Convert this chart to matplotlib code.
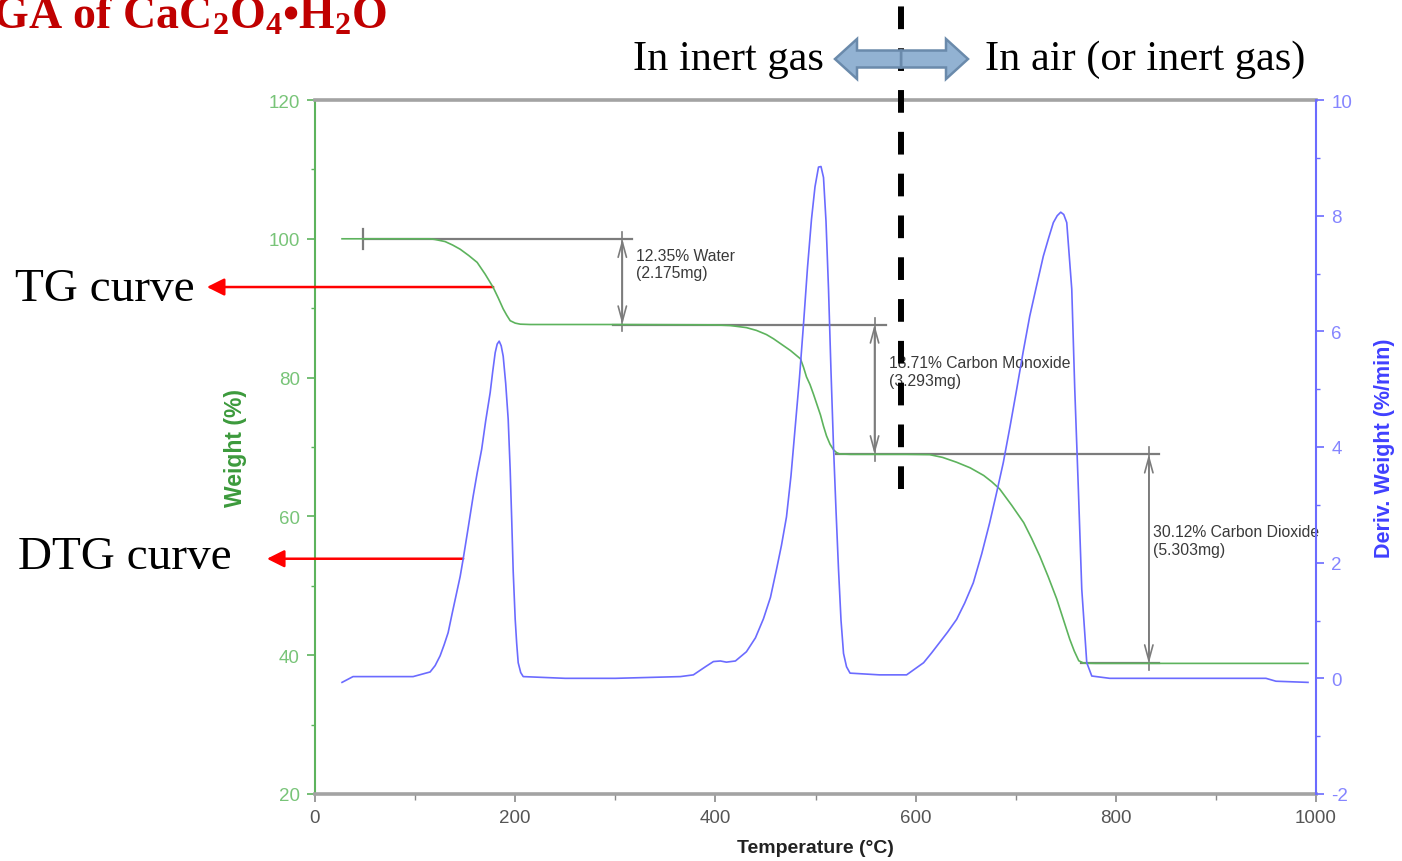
import matplotlib
matplotlib.use("Agg")
import matplotlib.pyplot as plt
from matplotlib.lines import Line2D
from matplotlib.patches import FancyArrow

# --- data ---
# TG curve: temperature (C) vs weight (%)
tg_temp = [27, 48, 115, 120, 130, 137.5, 145, 153.5, 162, 170, 178, 183, 188, 191.5, 195,
           200, 205, 215, 300, 398, 415, 431, 441, 451, 458, 465, 470, 475, 480, 485, 488,
           491, 494.5, 498, 501.5, 505, 508, 511, 514.5, 518, 521, 524, 535, 591, 614, 627,
           641, 654.5, 668, 676, 684, 696, 708, 716, 724, 732.5, 741, 747.5, 754, 758.5,
           763, 768, 780, 992]
tg_weight = [100, 100, 100, 99.9, 99.6, 99.1, 98.5, 97.6, 96.6, 94.9, 93.0, 91.5, 89.9, 89.0,
             88.2, 87.85, 87.7, 87.65, 87.65, 87.6, 87.5, 87.2, 86.8, 86.2, 85.6, 84.9, 84.4,
             83.9, 83.3, 82.7, 81.5, 80.1, 79.0, 77.6, 76.1, 74.6, 73.0, 71.6, 70.4, 69.6,
             69.2, 69.0, 68.94, 68.94, 68.9, 68.5, 67.8, 67.0, 65.9, 65.0, 63.95, 61.6, 59.1,
             56.8, 54.3, 51.3, 48.1, 45.2, 42.3, 40.6, 39.2, 38.85, 38.82, 38.82]

# DTG curve: temperature (C) vs deriv. weight (%/min)
dtg_temp = [27, 38, 98, 115, 120, 125, 129, 133, 137, 141.5, 145, 148, 153, 158, 162, 166.5,
            170.5, 175, 177.5, 180, 182, 184, 186, 188, 190.5, 193, 195, 196.5, 198, 200,
            201.5, 203, 205.5, 208, 250, 300, 365, 378, 390, 398, 405, 411, 420, 431, 440,
            448, 455, 461, 466, 471, 475.5, 479.5, 484, 488, 492, 496, 499.5, 503, 505.5,
            508, 510.5, 513, 515.5, 518, 520.5, 523, 525.5, 528, 531, 534.5, 564, 591, 608,
            616, 624, 632, 641, 649, 657.6, 666, 674, 680.8, 687.6, 694.3, 701, 707.5, 714,
            721, 727.6, 733, 737.6, 741.5, 745, 748, 751, 756, 759, 762.6, 766, 771, 776,
            794, 950, 960, 992]
dtg_value = [-0.07, 0.03, 0.03, 0.11, 0.22, 0.39, 0.58, 0.79, 1.12, 1.48, 1.76, 2.06, 2.6,
             3.15, 3.55, 3.96, 4.45, 4.94, 5.3, 5.63, 5.78, 5.83, 5.75, 5.57, 5.1, 4.48, 3.6,
             2.75, 1.85, 1.02, 0.6, 0.27, 0.1, 0.03, 0.0, 0.0, 0.03, 0.06, 0.2, 0.29, 0.3,
             0.28, 0.3, 0.46, 0.7, 1.03, 1.4, 1.88, 2.3, 2.79, 3.5, 4.30, 5.2, 6.12, 7.1, 7.94,
             8.5, 8.84, 8.85, 8.66, 7.9, 6.73, 5.3, 4.0, 2.9, 1.88, 1.0, 0.43, 0.2, 0.09, 0.06,
             0.06, 0.27, 0.44, 0.62, 0.8, 1.02, 1.3, 1.65, 2.15, 2.69, 3.2, 3.73, 4.35, 5.0,
             5.65, 6.26, 6.8, 7.30, 7.62, 7.88, 8.0, 8.06, 8.02, 7.88, 6.73, 5.0, 3.27, 1.54,
             0.27, 0.04, 0.0, 0.0, -0.05, -0.07]

# weight-loss steps
step_levels = [100.0, 87.65, 68.94, 38.82]
step_arrow_temp = [307, 559, 833]
step_labels = ["12.35% Water\n(2.175mg)",
               "18.71% Carbon Monoxide\n(3.293mg)",
               "30.12% Carbon Dioxide\n(5.303mg)"]
step_label_pos = [(321, 96.4), (573, 80.9), (837, 56.5)]
# horizontal guide lines: (level, T start, T end)
guide_lines = [(100.0, 48, 317), (87.65, 298, 570), (68.94, 520, 843), (38.82, 765, 843)]

# --- styling ---
plt.rcParams['font.family'] = ['Liberation Sans', 'DejaVu Sans']
plt.rcParams['axes.unicode_minus'] = False
plt.rcParams['mathtext.fontset'] = 'custom'
plt.rcParams['mathtext.rm'] = 'Liberation Serif:bold'
plt.rcParams['mathtext.it'] = 'Liberation Serif:italic:bold'
plt.rcParams['mathtext.bf'] = 'Liberation Serif:bold'

GREEN = '#5db35d'
GREEN_TXT = '#78c478'
GREEN_LBL = '#3c9a3c'
BLUE = '#6b6bff'
BLUE_TXT = '#8585ff'
BLUE_LBL = '#4040ff'
GREY = '#7c7c7c'

W, H = 1402, 862
fig = plt.figure(figsize=(W / 100, H / 100), dpi=100)
ax = fig.add_axes([315 / W, 67 / H, 1001 / W, 694 / H])
ax2 = ax.twinx()

ax.set_xlim(0, 1000)
ax.set_ylim(20, 120)
ax2.set_ylim(-2, 10)

# curves
ax2.plot(dtg_temp, dtg_value, color=BLUE, lw=1.2, zorder=3)
ax.plot(tg_temp, tg_weight, color=GREEN, lw=1.2, zorder=4)

# step annotations
for lvl, t0, t1 in guide_lines:
    ax.plot([t0, t1], [lvl, lvl], color=GREY, lw=1.6, zorder=2)
ax.plot([48, 48], [98.6, 101.4], color=GREY, lw=1.6, zorder=2)
for i, t in enumerate(step_arrow_temp):
    top, bot = step_levels[i], step_levels[i + 1]
    ax.plot([t, t], [top + 1.0, bot - 1.0], color=GREY, lw=1.2, zorder=2)
    ax.annotate('', xy=(t, top), xytext=(t, bot),
                arrowprops=dict(arrowstyle='<->,head_length=1.1,head_width=0.3',
                                color=GREY, lw=1.2, mutation_scale=10,
                                shrinkA=0, shrinkB=0), zorder=2)
    ax.text(step_label_pos[i][0], step_label_pos[i][1], step_labels[i],
            fontsize=11.3, color='#3a3a3a', ha='left', va='center', linespacing=1.2,
            zorder=5)

# spines
ax2.set_zorder(ax.get_zorder() + 1)
ax2.patch.set_visible(False)
for s in ['top', 'bottom']:
    ax.spines[s].set_color('#a3a3a3')
    ax.spines[s].set_linewidth(2.6)
ax.spines['left'].set_color(GREEN)
ax.spines['left'].set_linewidth(1.5)
ax.spines['right'].set_visible(False)
for s in ['top', 'bottom', 'left']:
    ax2.spines[s].set_visible(False)
ax2.spines['right'].set_color(BLUE)
ax2.spines['right'].set_linewidth(1.5)

# ticks
ax.set_xticks(range(0, 1001, 200))
ax.set_xticks(range(100, 1000, 200), minor=True)
ax.set_yticks(range(20, 121, 20))
ax.set_yticks(range(30, 120, 20), minor=True)
ax2.set_yticks(range(-2, 11, 2))
ax2.set_yticks(range(-1, 10, 2), minor=True)
ax.tick_params(axis='x', which='both', colors='#8a8a8a', labelcolor='#555555',
               labelsize=13.5, pad=5, direction='out')
ax.tick_params(axis='x', which='major', length=6, width=1.2)
ax.tick_params(axis='x', which='minor', length=4, width=1.0)
ax.tick_params(axis='y', which='both', colors=GREEN, labelcolor=GREEN_TXT,
               labelsize=13.5, pad=5, direction='out')
ax.tick_params(axis='y', which='major', length=6, width=1.2)
ax.tick_params(axis='y', which='minor', length=3, width=1.0)
ax2.tick_params(axis='y', which='both', colors=BLUE, labelcolor=BLUE_TXT,
                labelsize=13.5, pad=5, direction='out')
ax2.tick_params(axis='y', which='major', length=6, width=1.2)
ax2.tick_params(axis='y', which='minor', length=3, width=1.0)

# axis labels
ax.set_xlabel('Temperature (°C)', fontsize=14, fontweight='bold', color='#222222')
ax.xaxis.set_label_coords(0.5, -45 / 694)
ax.set_ylabel('Weight (%)', fontsize=16.5, fontweight='bold', color=GREEN_LBL)
ax.yaxis.set_label_coords(-68 / 1001, 0.5)
ax2.set_ylabel('Deriv. Weight (%/min)', fontsize=15.5, fontweight='bold', color=BLUE_LBL)
ax2.yaxis.set_label_coords(1 + 58 / 1001, 0.5)

# title (partially cut off at the left edge, as in the source slide)
fig.text(-38 / W, 1 - 29 / H, r'TGA of CaC$_2$O$_4$•H$_2$O', fontsize=33,
         family='Liberation Serif', fontweight='bold', color='#c00000',
         ha='left', va='baseline')

# curve labels with red arrows
fig.text(15 / W, 1 - 290 / H, 'TG curve', fontsize=34, family='Liberation Serif',
         ha='left', va='center')
fig.text(18 / W, 1 - 558 / H, 'DTG curve', fontsize=34, family='Liberation Serif',
         ha='left', va='center')
red_arrow = dict(arrowstyle='-|>,head_length=0.7,head_width=0.35', color='#ff0000',
                 lw=1.8, mutation_scale=15, shrinkA=0, shrinkB=0)
ax.annotate('', xy=(-108, 93.05), xytext=(178, 93.05), annotation_clip=False,
            arrowprops=red_arrow)
ax.annotate('', xy=(-48, 53.9), xytext=(148, 53.9), annotation_clip=False,
            arrowprops=red_arrow)

# gas atmosphere annotation
fig.text(633 / W, 1 - 60 / H, 'In inert gas', fontsize=30.5, family='Liberation Serif',
         ha='left', va='center')
fig.text(985 / W, 1 - 60 / H, 'In air (or inert gas)', fontsize=30.5,
         family='Liberation Serif', ha='left', va='center')

# dashed separator
dash = Line2D([9.01, 9.01], [(H - 490) / 100, H / 100], transform=fig.dpi_scale_trans,
              color='black', lw=4.3, linestyle=(0, (3.8, 3.2)), solid_capstyle='butt',
              dash_capstyle='butt', zorder=6)
fig.add_artist(dash)

# double block arrow
for x0, dx in [(9.01, 0.67), (9.01, -0.66)]:
    arr = FancyArrow(x0, (H - 60) / 100, dx, 0, width=0.17, head_width=0.40,
                     head_length=0.22, length_includes_head=True,
                     transform=fig.dpi_scale_trans, facecolor='#92b2d2',
                     edgecolor='#6a8aab', lw=1.8, zorder=7)
    fig.add_artist(arr)

fig.savefig('out.png', dpi=100)
